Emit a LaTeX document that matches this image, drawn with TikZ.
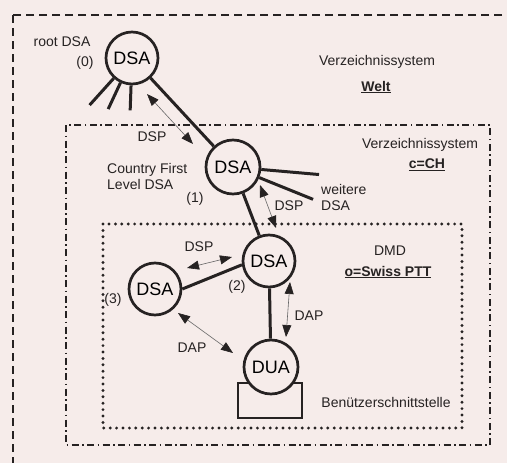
\documentclass[tikz,border=0pt]{standalone}
\usepackage{fontspec}
\setmainfont{Liberation Sans}
\usepackage{tikz}
\usetikzlibrary{arrows.meta, positioning}
\definecolor{scanpaper}{RGB}{246,236,234}
\definecolor{inkdark}{RGB}{38,34,34}

\begin{document}
\begin{tikzpicture}[x=1pt, y=1pt,
  agent/.style={circle, draw=inkdark, line width=2.7pt, fill=scanpaper, minimum size=52pt, inner sep=0pt, font=\fontsize{18}{20}\selectfont},
  link/.style={draw=inkdark, line width=3pt},
  proto/.style={draw=black!60, line width=0.6pt, {Triangle[length=12pt,width=9pt,color=inkdark]}-{Triangle[length=12pt,width=9pt,color=inkdark]}},
  lbl/.style={font=\fontsize{14}{16}\selectfont, text=inkdark, inner sep=1pt},
  weltbox/.style={draw=inkdark, line width=2.8pt, dash pattern=on 8pt off 5pt},
  landbox/.style={draw=inkdark, line width=2.8pt, dash pattern=on 7pt off 3.5pt on 1.5pt off 3.5pt},
  dmdbox/.style={draw=inkdark, line width=3.2pt, line cap=round, dash pattern=on 0pt off 6.4pt}]

\useasboundingbox (0,0) rectangle (507,-463);
\fill[scanpaper] (0,0) rectangle (507,-463);
\clip (0,0) rectangle (507,-463);

% Verzeichnissysteme
\draw[weltbox] (13,-15) rectangle (530,-490);
\draw[landbox] (66,-125) rectangle (490,-445);
\draw[dmdbox] (103,-224) rectangle (462,-428);

% DSAs and DUA
\node[agent] (root) at (132,-58) {DSA};
\node[agent, minimum size=54pt] (cfl) at (233,-167) {DSA};
\node[agent] (dsa2) at (269,-261) {DSA};
\node[agent] (dsa3) at (155,-289) {DSA};
\node[draw=inkdark, line width=2.7pt, minimum width=64pt, minimum height=35pt, inner sep=0pt] (term) at (270,-400.5) {};
\node[agent, minimum size=54pt] (dua) at (271,-367) {DUA};

% Verbindungen
\draw[link] (root) -- (cfl);
\draw[link] (cfl) -- (dsa2);
\draw[link] (dsa3.east) -- (dsa2.188);
\draw[link] (dsa2) -- (dua);
\foreach \a/\l in {228/36,245/29,268/25}
  \draw[link] (root.\a) -- ++(\a:\l);
\foreach \a in {-5,-22}
  \draw[link] (cfl.\a) -- ++(\a:58);

% Protokolle
\coordinate (dspA) at (147,-94);
\coordinate (dspB) at (193,-144);
\coordinate (dspC) at (260,-185);
\coordinate (dspD) at (276,-228);
\coordinate (dspE) at (187,-268);
\coordinate (dspF) at (232,-257);
\coordinate (dapA) at (178,-313);
\coordinate (dapB) at (233,-353);
\coordinate (dapC) at (290,-282);
\coordinate (dapD) at (286,-337);
\draw[proto] (dspA) -- (dspB);
\draw[proto] (dspC) -- (dspD);
\draw[proto] (dspE) -- (dspF);
\draw[proto] (dapA) -- (dapB);
\draw[proto] (dapC) -- (dapD);

% Beschriftungen
\node[lbl] (rootlbl) at (62,-42) {root DSA};
\node[lbl] (n0) at (85,-63) {(0)};
\node[lbl] (vzwelt) at (377,-62) {Verzeichnissystem};
\node[lbl] (welt) at (376,-87) {\underline{\textbf{Welt}}};
\node[lbl] (dsp1) at (152,-137) {DSP};
\node[lbl, align=left, anchor=west] (cfllbl) at (106,-176) {Country First\\Level DSA};
\node[lbl] (n1) at (195,-199) {(1)};
\node[lbl] (vzch) at (420,-145) {Verzeichnissystem};
\node[lbl] (ch) at (427,-165) {\underline{\textbf{c=CH}}};
\node[lbl, align=left, anchor=west] (weitere) at (320,-197) {weitere\\DSA};
\node[lbl] (dsp2) at (289,-206) {DSP};
\node[lbl] (dmd) at (390,-251) {DMD};
\node[lbl] (ptt) at (388,-272) {\underline{\textbf{o=Swiss PTT}}};
\node[lbl] (dsp3) at (199,-247) {DSP};
\node[lbl] (n2) at (237,-287) {(2)};
\node[lbl] (n3) at (113,-300) {(3)};
\node[lbl] (dap1) at (192,-348) {DAP};
\node[lbl] (dap2) at (309,-316) {DAP};
\node[lbl] (bs) at (386,-402) {Benützerschnittstelle};

\end{tikzpicture}
\end{document}
